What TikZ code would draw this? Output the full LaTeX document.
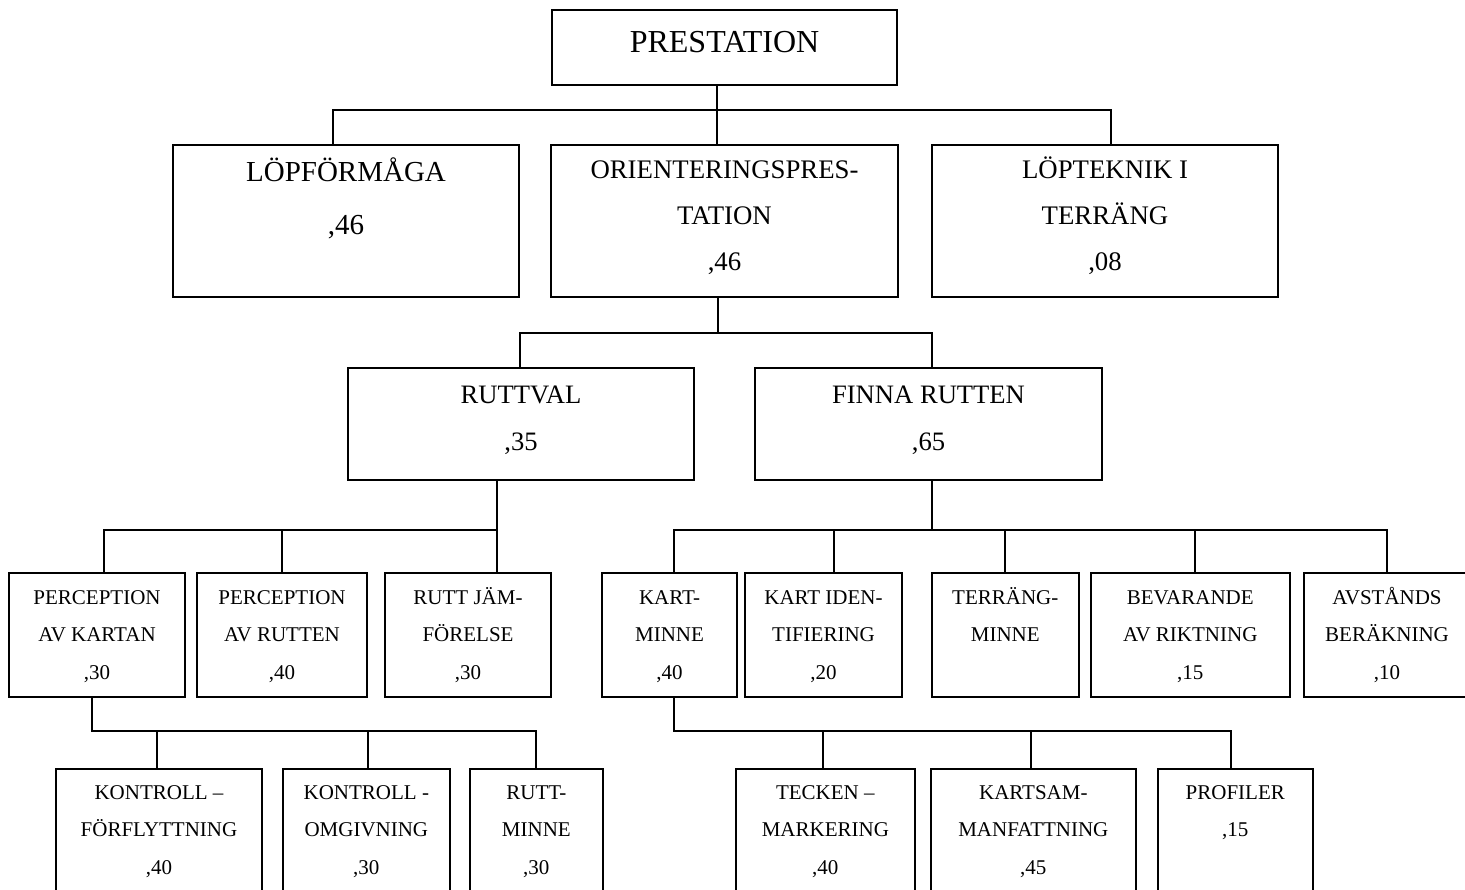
\documentclass[tikz,border=0pt]{standalone}
\usepackage{fontspec}
\setmainfont{Liberation Serif}
\usetikzlibrary{calc}
\newcommand\fPre{\fontsize{16}{20}\selectfont}
\newcommand\fBig{\fontsize{14.5}{26.5}\selectfont}
\newcommand\fMid{\fontsize{13.4}{23}\selectfont}
\newcommand\fMidB{\fontsize{13.3}{23.5}\selectfont}
\newcommand\fSm{\fontsize{10.5}{18.75}\selectfont}
\begin{document}
\begin{tikzpicture}[x=0.5pt,y=-0.5pt,
  box/.style={draw,line width=1pt,rectangle,inner sep=0pt},
  txt/.style={anchor=north,inner sep=0pt,align=center},
  link/.style={line width=1pt,line join=miter}]
\useasboundingbox (0,0) rectangle (1465,889);
\clip (0,0) rectangle (1465,889);

% ---------- boxes ----------
\node[box,minimum width=172.5pt,minimum height=37.5pt] (prest) at (724.5,47.5) {};
\node[box,minimum width=173pt,minimum height=76pt] (lopf) at (346,221) {};
\node[box,minimum width=173.5pt,minimum height=76pt] (orient) at (724.5,221) {};
\node[box,minimum width=173pt,minimum height=76pt] (lopt) at (1105,221) {};
\node[box,minimum width=173pt,minimum height=56pt] (ruttval) at (521,424) {};
\node[box,minimum width=173.5pt,minimum height=56pt] (finna) at (928.5,424) {};
% row 3
\node[box,minimum width=88pt,minimum height=62pt] (pak) at (97,635) {};
\node[box,minimum width=85pt,minimum height=62pt] (par) at (282,635) {};
\node[box,minimum width=83pt,minimum height=62pt] (rj) at (468,635) {};
\node[box,minimum width=67.5pt,minimum height=62pt] (km) at (669.5,635) {};
\node[box,minimum width=78.5pt,minimum height=62pt] (ki) at (823.5,635) {};
\node[box,minimum width=73.75pt,minimum height=62pt] (tm) at (1005.25,635) {};
\node[box,minimum width=99.75pt,minimum height=62pt] (br) at (1190.25,635) {};
\node[box,minimum width=83pt,minimum height=62pt] (ab) at (1387,635) {};
% row 4
\node[box,minimum width=103pt,minimum height=70pt] (kf) at (159,839) {};
\node[box,minimum width=83.65pt,minimum height=70pt] (ko) at (366.35,839) {};
\node[box,minimum width=66.35pt,minimum height=70pt] (rm) at (536.35,839) {};
\node[box,minimum width=89.65pt,minimum height=70pt] (tk) at (825.35,839) {};
\node[box,minimum width=102.35pt,minimum height=70pt] (ks) at (1033.35,839) {};
\node[box,minimum width=77.75pt,minimum height=70pt] (pr) at (1235.25,839) {};

% ---------- texts ----------
\node[txt,font=\fPre] (prest-t) at ($(prest.north)+(0,14.6)$) {\rule{0pt}{14pt}PRESTATION};
\node[txt,font=\fBig] (lopf-t) at ($(lopf.north)+(0,8.6)$) {\rule{0pt}{14pt}LÖPFÖRMÅGA\\,46};
\node[txt,font=\fMid] (orient-t) at ($(orient.north)+(0,7.9)$) {\rule{0pt}{13pt}ORIENTERINGSPRES-\\TATION\\,46};
\node[txt,font=\fMid] (lopt-t) at ($(lopt.north)+(0,7.9)$) {\rule{0pt}{13pt}LÖPTEKNIK I\\TERRÄNG\\,08};
\node[txt,font=\fMidB] (ruttval-t) at ($(ruttval.north)+(0,9.8)$) {\rule{0pt}{13pt}RUTTVAL\\,35};
\node[txt,font=\fMidB] (finna-t) at ($(finna.north)+(0,9.8)$) {\rule{0pt}{13pt}FINNA RUTTEN\\,65};

\node[txt,font=\fSm] (pak-t) at ($(pak.north)+(0,12)$) {\rule{0pt}{10pt}PERCEPTION\\AV KARTAN\\,30};
\node[txt,font=\fSm] (par-t) at ($(par.north)+(0,12)$) {\rule{0pt}{10pt}PERCEPTION\\AV RUTTEN\\,40};
\node[txt,font=\fSm] (rj-t) at ($(rj.north)+(0,12)$) {\rule{0pt}{10pt}RUTT JÄM-\\FÖRELSE\\,30};
\node[txt,font=\fSm] (km-t) at ($(km.north)+(0,12)$) {\rule{0pt}{10pt}KART-\\MINNE\\,40};
\node[txt,font=\fSm] (ki-t) at ($(ki.north)+(0,12)$) {\rule{0pt}{10pt}KART IDEN-\\TIFIERING\\,20};
\node[txt,font=\fSm] (tm-t) at ($(tm.north)+(0,12)$) {\rule{0pt}{10pt}TERRÄNG-\\MINNE};
\node[txt,font=\fSm] (br-t) at ($(br.north)+(0,12)$) {\rule{0pt}{10pt}BEVARANDE\\AV RIKTNING\\,15};
\node[txt,font=\fSm] (ab-t) at ($(ab.north)+(0,12)$) {\rule{0pt}{10pt}AVSTÅNDS\\BERÄKNING\\,10};

\node[txt,font=\fSm] (kf-t) at ($(kf.north)+(0,11)$) {\rule{0pt}{10pt}KONTROLL –\\FÖRFLYTTNING\\,40};
\node[txt,font=\fSm] (ko-t) at ($(ko.north)+(0,11)$) {\rule{0pt}{10pt}KONTROLL -\\OMGIVNING\\,30};
\node[txt,font=\fSm] (rm-t) at ($(rm.north)+(0,11)$) {\rule{0pt}{10pt}RUTT-\\MINNE\\,30};
\node[txt,font=\fSm] (tk-t) at ($(tk.north)+(0,11)$) {\rule{0pt}{10pt}TECKEN –\\MARKERING\\,40};
\node[txt,font=\fSm] (ks-t) at ($(ks.north)+(0,11)$) {\rule{0pt}{10pt}KARTSAM-\\MANFATTNING\\,45};
\node[txt,font=\fSm] (pr-t) at ($(pr.north)+(0,11)$) {\rule{0pt}{10pt}PROFILER\\,15};

% ---------- connectors ----------
\coordinate (j1) at (717,110);
\coordinate (j1l) at (333,110);
\coordinate (j1r) at (1111,110);
\draw[link] (prest.south -| j1) -- (j1);
\draw[link] (lopf.north -| j1l) -- (j1l) -- (j1r) -- (lopt.north -| j1r);
\draw[link] (j1) -- (orient.north -| j1);

\coordinate (j2) at (718,333);
\coordinate (j2l) at (520,333);
\coordinate (j2r) at (932,333);
\draw[link] (orient.south -| j2) -- (j2);
\draw[link] (ruttval.north -| j2l) -- (j2l) -- (j2r) -- (finna.north -| j2r);

\coordinate (j3l) at (104,530);
\coordinate (j3m) at (282,530);
\coordinate (j3r) at (497,530);
\draw[link] (ruttval.south -| j3r) -- (rj.north -| j3r);
\draw[link] (pak.north -| j3l) -- (j3l) -- (j3r);
\draw[link] (j3m) -- (par.north -| j3m);

\coordinate (j4) at (931.5,530);
\coordinate (j4a) at (674,530);
\coordinate (j4b) at (834,530);
\coordinate (j4c) at (1005,530);
\coordinate (j4d) at (1195,530);
\coordinate (j4e) at (1387,530);
\draw[link] (finna.south -| j4) -- (j4);
\draw[link] (km.north -| j4a) -- (j4a) -- (j4e) -- (ab.north -| j4e);
\draw[link] (j4b) -- (ki.north -| j4b);
\draw[link] (j4c) -- (tm.north -| j4c);
\draw[link] (j4d) -- (br.north -| j4d);

\coordinate (j5l) at (92,731);
\coordinate (j5a) at (157.3,731);
\coordinate (j5b) at (367.5,731);
\coordinate (j5r) at (536,731);
\draw[link] (pak.south -| j5l) -- (j5l) -- (j5r) -- (rm.north -| j5r);
\draw[link] (j5a) -- (kf.north -| j5a);
\draw[link] (j5b) -- (ko.north -| j5b);

\coordinate (j6l) at (674,731);
\coordinate (j6a) at (822.7,731);
\coordinate (j6b) at (1030.7,731);
\coordinate (j6r) at (1230.7,731);
\draw[link] (km.south -| j6l) -- (j6l) -- (j6r) -- (pr.north -| j6r);
\draw[link] (j6a) -- (tk.north -| j6a);
\draw[link] (j6b) -- (ks.north -| j6b);
\end{tikzpicture}
\end{document}
